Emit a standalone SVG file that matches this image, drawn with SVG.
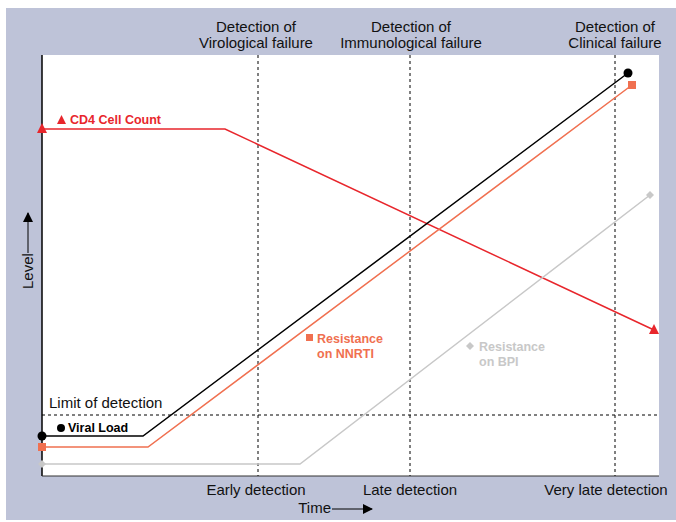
<svg xmlns="http://www.w3.org/2000/svg" width="676" height="522" viewBox="0 0 676 522">
<style>
text{font-family:"Liberation Sans",Arial,sans-serif}
.lbl{font-size:15px;fill:#111}
.key{font-size:12.5px;font-weight:bold}
.dot{stroke:#000;stroke-width:1;stroke-dasharray:3,3;fill:none}
</style>
<defs>
<marker id="ah" viewBox="0 0 10 10" refX="9" refY="5" markerWidth="10" markerHeight="10" markerUnits="userSpaceOnUse" orient="auto"><path d="M0,0L10,5L0,10z" fill="#000"/></marker>
</defs>
<rect x="6" y="8" width="670" height="512" fill="#BEC3D8"/>
<rect x="42" y="55" width="617" height="421" fill="#fff"/>
<g id="axes">
<line x1="42" y1="55" x2="42" y2="476" stroke="#000" stroke-width="1.5"/>
<line x1="42" y1="476" x2="659" y2="476" stroke="#333" stroke-width="1"/>
</g>
<g id="guides">
<line class="dot" x1="258" y1="55" x2="258" y2="476"/>
<line class="dot" x1="410" y1="55" x2="410" y2="476"/>
<line class="dot" x1="615" y1="55" x2="615" y2="476"/>
<line class="dot" x1="42" y1="415" x2="659" y2="415"/>
</g>
<g id="connectors">
<polyline points="42,129 225,129 654,330" fill="none" stroke="#E8262C" stroke-width="1.5"/>
<polyline points="42,436 143,436 628,73" fill="none" stroke="#000" stroke-width="1.5"/>
<polyline points="42,447 148,447 632,85" fill="none" stroke="#F07050" stroke-width="1.5"/>
<polyline points="42,464 300,464 650,195" fill="none" stroke="#C8C8C8" stroke-width="1.5"/>
</g>
<g id="cd4">
<path d="M42,123L47,133L37,133z" fill="#E8262C"/>
<path d="M654,324L659,334L649,334z" fill="#E8262C"/>
<path d="M57,124L61.5,115L66,124z" fill="#E8262C"/>
<text class="key" x="70" y="124" fill="#E8262C">CD4 Cell Count</text>
</g>
<g id="viral">
<circle cx="42" cy="436" r="4.5" fill="#000"/>
<circle cx="628" cy="73" r="4.5" fill="#000"/>
<circle cx="61" cy="428" r="4" fill="#000"/>
<text class="key" x="68" y="432" fill="#000">Viral Load</text>
</g>
<g id="nnrti">
<rect x="38" y="443" width="8" height="8" fill="#F07050"/>
<rect x="628" y="81" width="8" height="8" fill="#F07050"/>
<rect x="306" y="334" width="7" height="7" fill="#F07050"/>
<text class="key" x="317" y="343" fill="#F07050">Resistance</text>
<text class="key" x="317" y="358" fill="#F07050">on NNRTI</text>
</g>
<g id="bpi">
<path d="M42,460L46,464L42,468L38,464z" fill="#C8C8C8"/>
<path d="M650,191L654,195L650,199L646,195z" fill="#C8C8C8"/>
<path d="M470,342L474,346L470,350L466,346z" fill="#C8C8C8"/>
<text class="key" x="479" y="351" fill="#C8C8C8">Resistance</text>
<text class="key" x="479" y="366" fill="#C8C8C8">on BPI</text>
</g>
<g id="top-labels">
<text class="lbl" x="256" y="32" text-anchor="middle">Detection of</text>
<text class="lbl" x="256" y="48" text-anchor="middle">Virological failure</text>
<text class="lbl" x="411" y="32" text-anchor="middle">Detection of</text>
<text class="lbl" x="411" y="48" text-anchor="middle">Immunological failure</text>
<text class="lbl" x="615" y="32" text-anchor="middle">Detection of</text>
<text class="lbl" x="615" y="48" text-anchor="middle">Clinical failure</text>
</g>
<g id="limit"><text class="lbl" x="49" y="408">Limit of detection</text></g>
<g id="bottom-labels">
<text class="lbl" x="256" y="495" text-anchor="middle">Early detection</text>
<text class="lbl" x="410" y="495" text-anchor="middle">Late detection</text>
<text class="lbl" x="606" y="495" text-anchor="middle">Very late detection</text>
<text class="lbl" x="331" y="513" text-anchor="end">Time</text>
<line x1="332" y1="509" x2="372" y2="509" stroke="#000" stroke-width="1" marker-end="url(#ah)"/>
</g>
<g id="level">
<text class="lbl" transform="translate(33,289) rotate(-90)">Level</text>
<line x1="28" y1="253" x2="28" y2="213" stroke="#000" stroke-width="1" marker-end="url(#ah)"/>
</g>
</svg>
